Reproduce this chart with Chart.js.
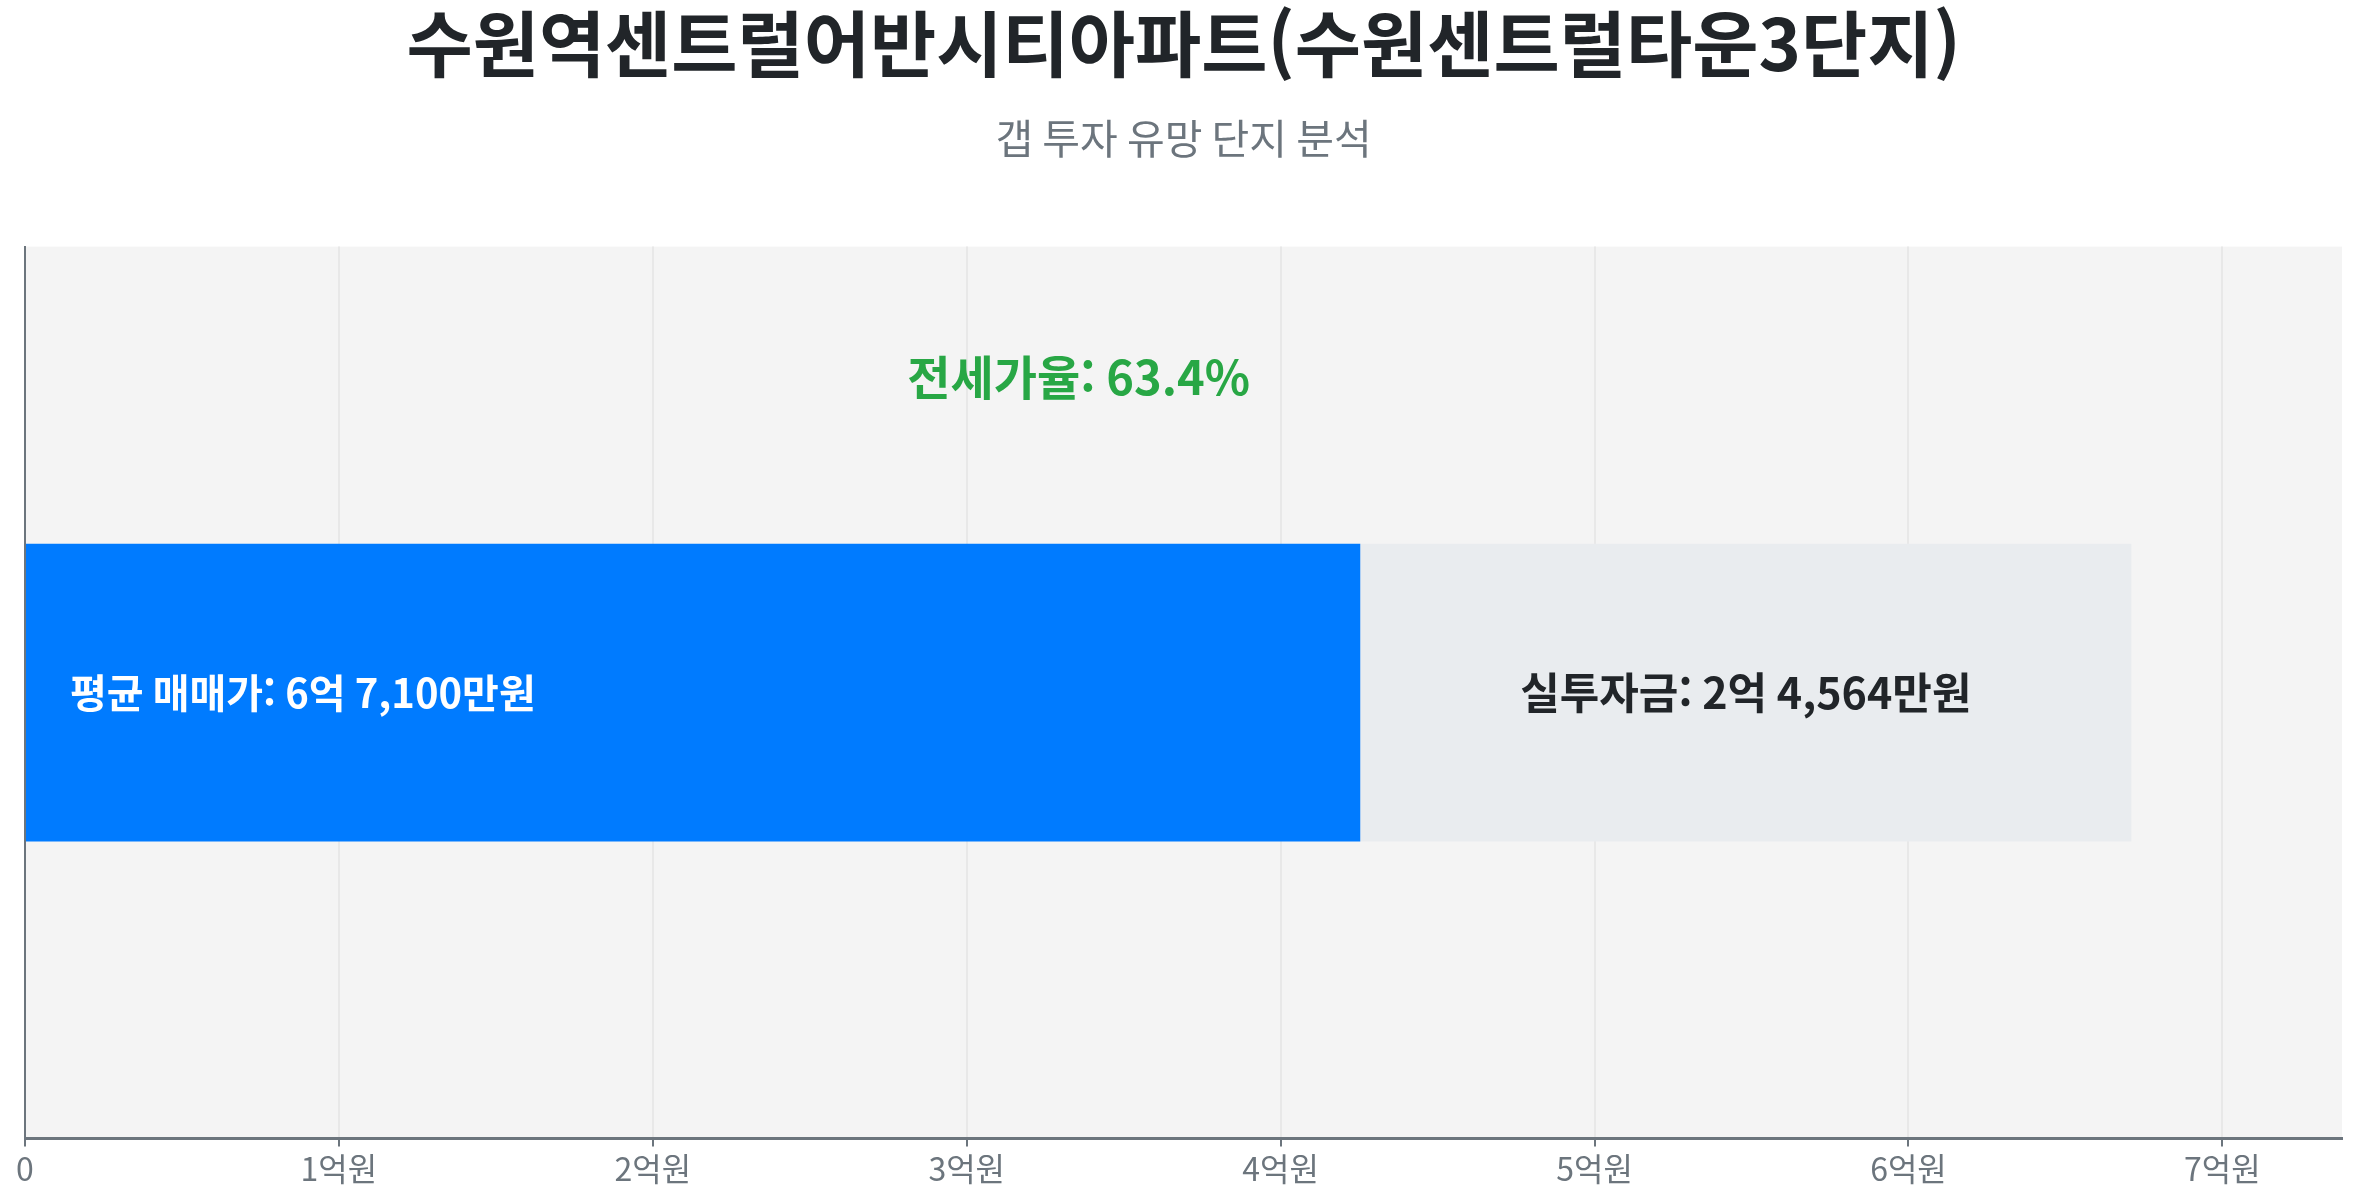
<!DOCTYPE html>
<html lang="ko">
<head>
<meta charset="utf-8">
<title>갭 투자 유망 단지 분석</title>
<script src="https://cdn.jsdelivr.net/npm/chart.js@4.4.1/dist/chart.umd.min.js"></script>
<style>
  html, body { margin: 0; padding: 0; background: #ffffff; }
  #wrap { width: 2357px; height: 1201px; }
</style>
</head>
<body>
<div id="wrap"><canvas id="myChart"></canvas></div>
<script>
// Data (unit: 만원)
const categories = ['수원역센트럴어반시티아파트(수원센트럴타운3단지)'];
const salePrice = [67100];     // 평균 매매가
const jeonsePrice = [42536];   // 전세가 (blue part)
const gapAmount = [24564];     // 실투자금 (grey part)
const tickLabels = ['0', '1억원', '2억원', '3억원', '4억원', '5억원', '6억원', '7억원'];

// 6억 7,100만원 style
function fmtWon(v) {
    const eok = Math.floor(v / 10000);
    const man = v % 10000;
    let s = eok > 0 ? eok + '억' : '';
    if (man > 0) s += (s ? ' ' : '') + man.toLocaleString('en-US') + '만원';
    else s += '원';
    return s;
}

Chart.defaults.font.family = "'Noto Sans CJK KR', 'Noto Sans', sans-serif";

// grey background behind the plot area
const areaBg = {
    id: 'areaBg',
    beforeDraw(chart) {
        const { ctx, chartArea } = chart;
        ctx.save();
        ctx.fillStyle = '#f4f4f4';
        ctx.fillRect(chartArea.left, chartArea.top, chartArea.right - chartArea.left, chartArea.bottom - chartArea.top);
        ctx.restore();
    }
};

// text inside / above the bar
const barText = {
    id: 'barText',
    afterDatasetsDraw(chart) {
        const ctx = chart.ctx;
        const blue = chart.getDatasetMeta(0).data[0];
        const grey = chart.getDatasetMeta(1).data[0];
        ctx.save();
        ctx.textBaseline = 'middle';

        ctx.font = "bold 40px 'Noto Sans CJK KR'";
        ctx.fillStyle = '#ffffff';
        ctx.textAlign = 'left';
        ctx.fillText('평균 매매가: ' + fmtWon(salePrice[0]), blue.base + 44, blue.y);

        ctx.font = "bold 43px 'Noto Sans CJK KR'";
        ctx.fillStyle = '#212529';
        ctx.textAlign = 'center';
        ctx.fillText('실투자금: ' + fmtWon(gapAmount[0]), (grey.base + grey.x) / 2, grey.y);

        const ratio = (jeonsePrice[0] / salePrice[0] * 100).toFixed(1);
        ctx.font = "bold 47px 'Noto Sans CJK KR'";
        ctx.fillStyle = '#28a745';
        ctx.fillText('전세가율: ' + ratio + '%', (blue.base + grey.x) / 2, blue.y - blue.height * 1.06);
        ctx.restore();
    }
};

const ctx = document.getElementById('myChart').getContext('2d');

const config = {
    type: 'bar',
    data: {
        labels: categories,
        datasets: [
            {
                label: '전세가',
                data: jeonsePrice,
                backgroundColor: '#007bff',
                borderWidth: 0,
                barPercentage: 1,
                categoryPercentage: 0.334
            },
            {
                label: '실투자금',
                data: gapAmount,
                backgroundColor: '#e9ecef',
                borderWidth: 0,
                barPercentage: 1,
                categoryPercentage: 0.334
            }
        ]
    },
    options: {
        indexAxis: 'y',
        responsive: true,
        maintainAspectRatio: false,
        animation: false,
        devicePixelRatio: 1,
        layout: {
            padding: { left: 25, right: 15, top: 0, bottom: 10 }
        },
        plugins: {
            legend: { display: false },
            tooltip: { enabled: false },
            title: {
                display: true,
                text: '수원역센트럴어반시티아파트(수원센트럴타운3단지)',
                color: '#212529',
                font: { size: 72, weight: 'bold' },
                padding: { top: 0, bottom: 12 }
            },
            subtitle: {
                display: true,
                text: '갭 투자 유망 단지 분석',
                color: '#6c757d',
                font: { size: 41, weight: 'normal' },
                padding: { top: 15, bottom: 84 }
            }
        },
        scales: {
            x: {
                stacked: true,
                min: 0,
                max: salePrice[0] * 1.1,
                afterBuildTicks: (scale) => {
                    scale.ticks = tickLabels.map((_, i) => ({ value: i * 10000 }));
                },
                ticks: {
                    color: '#6c757d',
                    font: { size: 32 },
                    maxRotation: 0,
                    autoSkip: false,
                    callback: (value) => tickLabels[Math.round(value / 10000)]
                },
                grid: {
                    color: '#e8e8e8',
                    lineWidth: 2,
                    tickColor: '#6c757d',
                    tickLength: 8
                },
                border: { display: true, color: '#6c757d', width: 3 }
            },
            y: {
                stacked: true,
                ticks: { display: false },
                grid: { display: false, drawTicks: false },
                border: { display: true, color: '#6c757d', width: 2 }
            }
        }
    },
    plugins: [areaBg, barText]
};

const mychart = new Chart(ctx, config);
</script>
</body>
</html>
